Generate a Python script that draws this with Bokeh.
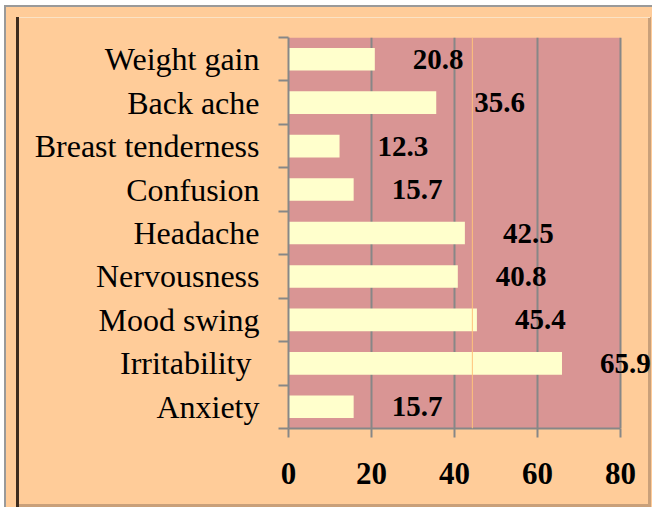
from bokeh.plotting import figure
from bokeh.models import Range1d, FixedTicker, Span, LabelSet, ColumnDataSource, BoxAnnotation
from bokeh.core.properties import value
from bokeh.embed import file_html
from bokeh.resources import INLINE

categories = ["Weight gain", "Back ache", "Breast tenderness", "Confusion",
              "Headache", "Nervousness", "Mood swing", "Irritability ", "Anxiety"]
percentages = [20.8, 35.6, 12.3, 15.7, 42.5, 40.8, 45.4, 65.9, 15.7]
x_ticks = [0, 20, 40, 60, 80]
x_max = 80
ref_line = 44.3

n = len(categories)
ypos = [n - i - 0.5 for i in range(n)]
src = ColumnDataSource(dict(y=ypos, v=percentages, lab=[f"{v:.1f}" for v in percentages]))

PEACH = "#FFCC99"
PINK = "#D99594"
GRAY = "#878787"
FONT = "Liberation Serif"

W, H = 652, 507
FRAME_L, FRAME_R = 288, 620  # pixel span of 0..80
x_end = x_max * (W - FRAME_L) / (FRAME_R - FRAME_L)

def g(c):
    return f"linear-gradient({c},{c})"

layers = [
    ("#FFFFFF", "0px 0px", "100% 5px"),
    ("#FFFFFF", "0px 0px", "4px 100%"),
    ("#9A9A9A", "4px 5px", "100% 2px"),
    ("#9A9A9A", "4px 5px", "2px 100%"),
    ("#3E2C1E", "16px 17px", "3px 100%"),
    ("#FBE3C6", "17px 17px", "633px 1px"),
    ("#C9A07A", "648px 17px", "3px 100%"),
    ("#C9A07A", "17px 504px", "634px 3px"),
]
frame_css = {
    "background-color": PEACH,
    "background-image": ", ".join(g(c) for c, _, _ in layers),
    "background-position": ", ".join(pos for _, pos, _ in layers),
    "background-size": ", ".join(sz for _, _, sz in layers),
    "background-repeat": "no-repeat",
}

p = figure(width=W, height=H, output_backend="svg", toolbar_location=None,
           x_range=Range1d(0, x_end), y_range=Range1d(0, n),
           min_border_left=FRAME_L, min_border_right=0, min_border_top=37, min_border_bottom=79,
           background_fill_color=None, border_fill_color=None, outline_line_color=None,
           styles=frame_css)

# plot area (0..80)
p.add_layout(BoxAnnotation(left=0, right=x_max, fill_color=PINK, fill_alpha=1,
                           line_color=None, level="image"))

p.hbar(y="y", right="v", left=0, height=0.52, source=src, fill_color="#FFFFCC", line_color=None)

p.add_layout(Span(location=ref_line, dimension="height", line_color="#FFC27A", line_width=1))
p.add_layout(LabelSet(x="v", y="y", text="lab", source=src, x_offset=38,
                      text_align="left", text_baseline="middle",
                      text_font=value(FONT), text_font_style="bold",
                      text_font_size="29px", text_color="black"))

# axes
p.xaxis.bounds = (0, x_max)
p.xaxis.ticker = FixedTicker(ticks=x_ticks, minor_ticks=[])
p.xaxis.axis_line_color = GRAY
p.xaxis.axis_line_width = 2
p.xaxis.major_tick_line_color = GRAY
p.xaxis.major_tick_line_width = 2
p.xaxis.major_tick_out = 9
p.xaxis.major_tick_in = 0
p.xaxis.minor_tick_line_color = None
p.xaxis.major_label_standoff = 25
p.xaxis.major_label_text_font = FONT
p.xaxis.major_label_text_font_style = "bold"
p.xaxis.major_label_text_font_size = "31px"
p.xaxis.major_label_text_color = "black"

p.yaxis.ticker = FixedTicker(ticks=ypos, minor_ticks=list(range(n + 1)))
p.yaxis.major_label_overrides = {y: c for y, c in zip(ypos, categories)}
p.yaxis.axis_line_color = GRAY
p.yaxis.axis_line_width = 2
p.yaxis.major_tick_line_color = None
p.yaxis.major_tick_out = 0
p.yaxis.major_tick_in = 0
p.yaxis.minor_tick_line_color = GRAY
p.yaxis.minor_tick_line_width = 2
p.yaxis.minor_tick_out = 10
p.yaxis.minor_tick_in = 0
p.yaxis.major_label_standoff = 19
p.yaxis.major_label_text_font = FONT
p.yaxis.major_label_text_font_size = "32px"
p.yaxis.major_label_text_color = "black"

p.xgrid.ticker = FixedTicker(ticks=x_ticks)
p.xgrid.grid_line_color = GRAY
p.xgrid.grid_line_width = 2
p.ygrid.grid_line_color = None

open("out.html", "w").write(file_html(p, INLINE))
